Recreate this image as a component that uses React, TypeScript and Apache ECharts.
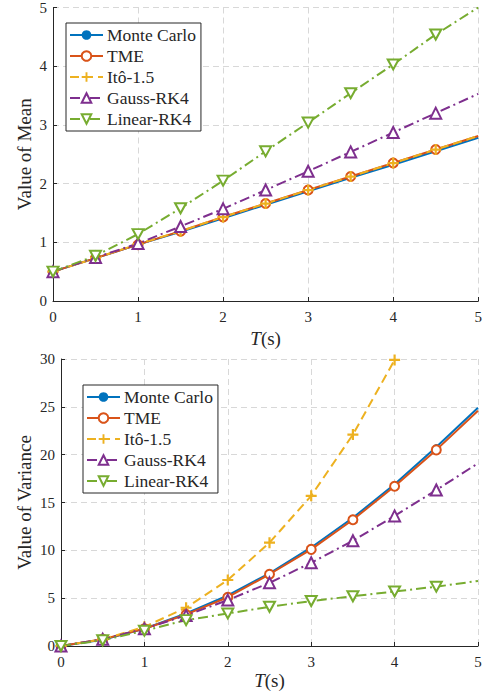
import React, { useEffect, useRef } from 'react';
import * as echarts from 'echarts';

const T = [0, 0.5, 1, 1.5, 2, 2.5, 3, 3.5, 4, 4.5, 5];
const seriesNames = ['Monte Carlo', 'TME', 'Itô-1.5', 'Gauss-RK4', 'Linear-RK4'];
const meanMonteCarlo = [0.5, 0.73, 0.96, 1.18, 1.41, 1.64, 1.87, 2.1, 2.32, 2.55, 2.78];
const meanTME = [0.5, 0.73, 0.96, 1.19, 1.43, 1.66, 1.89, 2.12, 2.35, 2.58, 2.81];
const meanIto = [0.5, 0.73, 0.97, 1.19, 1.43, 1.66, 1.89, 2.12, 2.35, 2.58, 2.81];
const meanGauss = [0.5, 0.74, 0.98, 1.27, 1.57, 1.89, 2.21, 2.54, 2.87, 3.2, 3.53];
const meanLinear = [0.5, 0.77, 1.14, 1.58, 2.05, 2.55, 3.04, 3.54, 4.03, 4.54, 5.0];
const varMonteCarlo = [0, 0.65, 1.8, 3.4, 5.3, 7.6, 10.3, 13.4, 16.9, 20.8, 24.9];
const varTME = [0, 0.7, 1.8, 3.3, 5.1, 7.5, 10.1, 13.2, 16.7, 20.5, 24.6];
const varIto = [0, 0.7, 2.0, 4.0, 6.9, 10.8, 15.7, 22.1, 29.9];
const varGauss = [0, 0.7, 1.8, 3.2, 4.8, 6.6, 8.7, 11.0, 13.6, 16.3, 19.1];
const varLinear = [0, 0.6, 1.6, 2.7, 3.4, 4.1, 4.7, 5.2, 5.7, 6.2, 6.8];
const meanTicks = [0, 1, 2, 3, 4, 5];
const varTicks = [0, 5, 10, 15, 20, 25, 30];

const FONT = 'Liberation Serif';
const AX = '#262626';
const COLORS = ['#0072BD', '#D95319', '#EDB120', '#7E2F8E', '#77AC30'];
const PLUS = 'path://M4,0h2v4h4v2h-4v4h-2v-4h-4v-2h4z';
const DOWN_TRI = 'path://M0,0L10,0L5,8.66Z';

function styleFor(i: number) {
  const c = COLORS[i];
  switch (i) {
    case 0:
      return { symbol: 'circle', symbolSize: 6, lineStyle: { color: c, width: 2, type: 'solid' }, itemStyle: { color: c } };
    case 1:
      return { symbol: 'circle', symbolSize: 9, lineStyle: { color: c, width: 2, type: 'solid' }, itemStyle: { color: '#fff', borderColor: c, borderWidth: 2 } };
    case 2:
      return { symbol: PLUS, symbolSize: 11, lineStyle: { color: c, width: 2, type: [9, 5] }, itemStyle: { color: c } };
    case 3:
      return { symbol: 'triangle', symbolSize: 11, lineStyle: { color: c, width: 2, type: [10, 4, 2, 4] }, itemStyle: { color: '#fff', borderColor: c, borderWidth: 2 } };
    default:
      return { symbol: DOWN_TRI, symbolSize: [11, 10], lineStyle: { color: c, width: 2, type: [10, 4, 2, 4] }, itemStyle: { color: '#fff', borderColor: c, borderWidth: 2 } };
  }
}

function makeSeries(values: number[][], gridIdx: number) {
  return values.map((vals, i) => ({
    type: 'line',
    name: seriesNames[i],
    xAxisIndex: gridIdx,
    yAxisIndex: gridIdx,
    data: vals.map((v, k) => (T[k] === 5 ? { value: [T[k], v], symbol: 'none' } : [T[k], v])),
    color: COLORS[i],
    showSymbol: true,
    clip: true,
    ...styleFor(i),
  }));
}

function xAxisCfg(gridIndex: number, gap: number) {
  return {
    type: 'value',
    gridIndex,
    min: 0,
    max: 5,
    interval: 1,
    name: '{i|T}(s)',
    nameLocation: 'middle',
    nameGap: gap,
    nameMoveOverlap: false,
    nameTextStyle: {
      fontFamily: FONT,
      fontSize: 19,
      color: AX,
      rich: { i: { fontFamily: FONT, fontSize: 19, fontStyle: 'italic', color: AX } },
    },
    axisLine: { show: true, onZero: false, lineStyle: { color: AX, width: 1 } },
    axisTick: { show: true, inside: true, length: 4, lineStyle: { color: AX } },
    axisLabel: { fontFamily: FONT, fontSize: 15, color: AX, margin: 8 },
    splitLine: { show: true, lineStyle: { color: '#d8d8d8', type: [6, 4], width: 1 } },
  };
}

function yAxisCfg(gridIndex: number, name: string, max: number, interval: number, gap: number) {
  return {
    type: 'value',
    gridIndex,
    min: 0,
    max,
    interval,
    name,
    nameLocation: 'middle',
    nameGap: gap,
    nameMoveOverlap: false,
    nameTextStyle: { fontFamily: FONT, fontSize: 19, color: AX },
    axisLine: { show: true, onZero: false, lineStyle: { color: AX, width: 1 } },
    axisTick: { show: true, inside: true, length: 4, lineStyle: { color: AX } },
    axisLabel: { fontFamily: FONT, fontSize: 15, color: AX, margin: 6 },
    splitLine: { show: true, lineStyle: { color: '#d8d8d8', type: [6, 4], width: 1 } },
  };
}

function legendCfg(left: number, top: number) {
  return {
    data: seriesNames,
    orient: 'vertical',
    left,
    top,
    itemWidth: 33,
    itemHeight: 12,
    itemGap: 3,
    padding: [3, 5, 3, 3],
    backgroundColor: '#fff',
    borderColor: AX,
    borderWidth: 1,
    borderRadius: 0,
    textStyle: { fontFamily: FONT, fontSize: 17.5, color: AX, padding: [0, 0, 0, -1] },
    selectedMode: false,
  };
}

export default function App() {
  const ref = useRef<HTMLDivElement>(null);
  useEffect(() => {
    if (!ref.current) return;
    const chart = echarts.init(ref.current, undefined, { renderer: 'svg' });
    chart.setOption({
      animation: false,
      backgroundColor: '#fff',
      grid: [
        { left: 53, top: 7, width: 426, height: 294 },
        { left: 61, top: 359, width: 417, height: 287 },
      ],
      xAxis: [xAxisCfg(0, 28), xAxisCfg(1, 25)],
      yAxis: [
        yAxisCfg(0, 'Value of Mean', meanTicks[meanTicks.length - 1], meanTicks[1] - meanTicks[0], 19),
        yAxisCfg(1, 'Value of Variance', varTicks[varTicks.length - 1], varTicks[1] - varTicks[0], 27),
      ],
      legend: [legendCfg(66, 23), legendCfg(83, 385)],
      series: [
        ...makeSeries([meanMonteCarlo, meanTME, meanIto, meanGauss, meanLinear], 0),
        ...makeSeries([varMonteCarlo, varTME, varIto, varGauss, varLinear], 1),
      ],
    });
    return () => chart.dispose();
  }, []);
  return <div ref={ref} style={{ position: 'fixed', left: 0, top: 0, width: 485, height: 696 }} />;
}
